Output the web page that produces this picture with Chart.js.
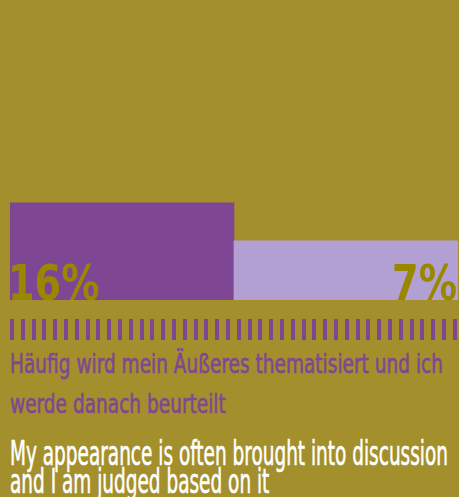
<!DOCTYPE html>
<html>
<head>
<meta charset="utf-8">
<script src="https://cdn.jsdelivr.net/npm/chart.js@4"></script>
<style>
    html, body { margin: 0; padding: 0; }
    body {
        width: 459px; height: 497px; overflow: hidden; position: relative;
        background: #a38f2b;
        font-family: "Liberation Sans Narrow", "DejaVu Sans Condensed", sans-serif;
    }
    #chartBox { position: absolute; left: 0; top: 0; width: 459px; height: 300px; }
    #ticks {
        position: absolute; left: 10px; top: 319px; width: 448px; height: 21px;
        background: repeating-linear-gradient(to right, #7f4793 0 4px, transparent 4px 10.8px);
    }
    .txt {
        position: absolute; left: 10px; white-space: nowrap; transform-origin: left top;
        -webkit-text-stroke: 0.6px currentColor;
    }
    #labelDe { top: 344px; font-size: 27px; line-height: 40px; color: #7f4793; }
    #labelEn { top: 439px; font-size: 34px; line-height: 28px; color: #ffffff; }
</style>
</head>
<body>
<div id="chartBox"><canvas id="barChart"></canvas></div>
<div id="ticks"></div>
<div class="txt" id="labelDe">Häufig wird mein Äußeres thematisiert und ich<br>werde danach beurteilt</div>
<div class="txt" id="labelEn">My appearance is often brought into discussion<br>and I am judged based on it</div>

<script>
// Chart data
var categories = ["A", "B"];
var values = [16, 7];
var valueLabels = ["16%", "7%"];
var barColors = ["#7f4793", "#b3a0d3"];

// Squeeze the caption blocks to the width they have in the design
function fitWidth(id, target) {
    var el = document.getElementById(id);
    var w = el.getBoundingClientRect().width;
    el.style.transform = 'scaleX(' + (target / w) + ')';
}
fitWidth('labelDe', 433);
fitWidth('labelEn', 438);

// Percent labels drawn at the bottom corners of the bars
var cornerLabels = {
    id: 'cornerLabels',
    afterDatasetsDraw: function (chart) {
        var ctx = chart.ctx;
        var meta = chart.getDatasetMeta(0);
        meta.data.forEach(function (bar, i) {
            var left = bar.x - bar.width / 2;
            var right = bar.x + bar.width / 2;
            ctx.save();
            ctx.fillStyle = '#9a8700';
            ctx.font = 'bold 50px "Liberation Sans Narrow", "DejaVu Sans Condensed", sans-serif';
            ctx.textBaseline = 'alphabetic';
            if (i === 0) {
                ctx.translate(left - 2, bar.base);
                ctx.textAlign = 'left';
            } else {
                ctx.translate(right - 1, bar.base);
                ctx.textAlign = 'right';
            }
            ctx.scale(0.85, 1);
            ctx.fillText(valueLabels[i], 0, 0);
            ctx.restore();
        });
    }
};

var ctx = document.getElementById("barChart").getContext('2d');
var myChart = new Chart(ctx, {
    type: 'bar',
    data: {
        labels: categories,
        datasets: [{
            data: values,
            base: -7,
            backgroundColor: barColors,
            borderWidth: 0,
            categoryPercentage: 1,
            barPercentage: 1
        }]
    },
    options: {
        responsive: true,
        maintainAspectRatio: false,
        animation: false,
        layout: { padding: { left: 10, right: 1, top: 0, bottom: 0 } },
        plugins: {
            legend: { display: false },
            tooltip: { enabled: false }
        },
        scales: {
            x: { display: false },
            y: { display: false, min: -7, max: 64 }
        }
    },
    plugins: [cornerLabels]
});
</script>
</body>
</html>
